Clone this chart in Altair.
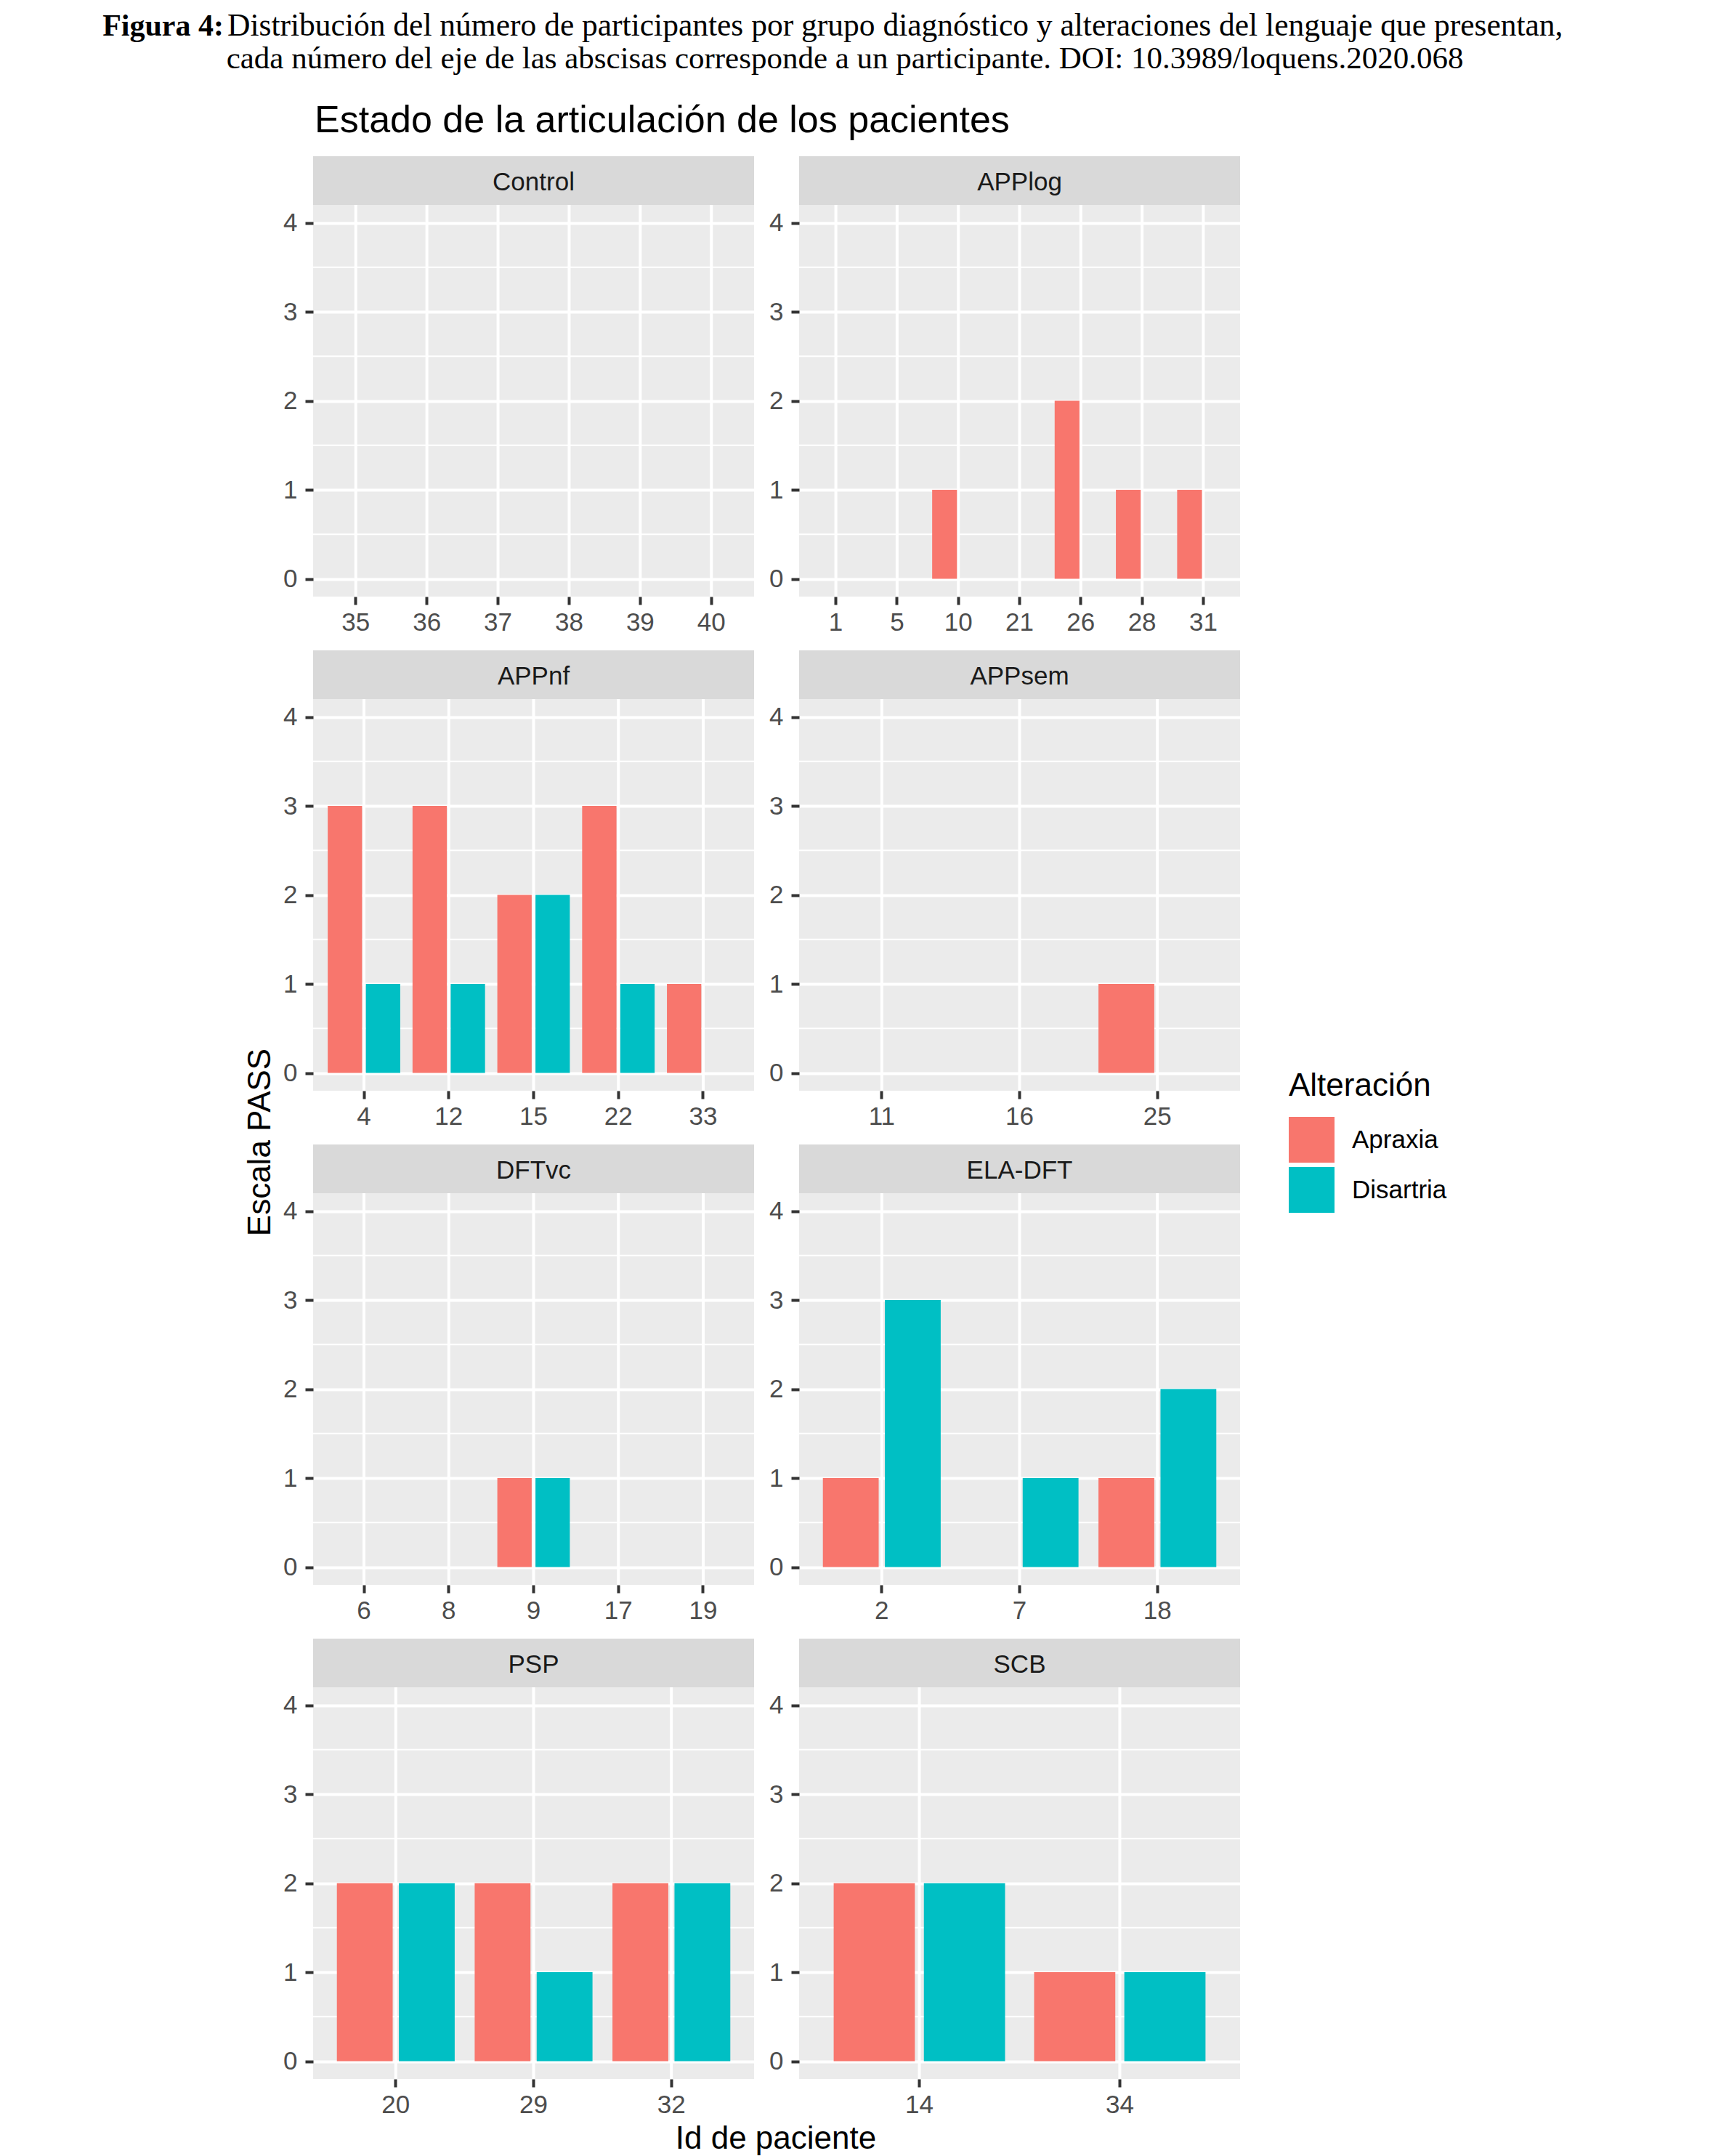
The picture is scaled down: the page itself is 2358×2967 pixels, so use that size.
import altair as alt
import pandas as pd

FONT = "Liberation Sans"
SERIF = "Liberation Serif"

# ---- data ----
groups = ["Control", "APPlog", "APPnf", "APPsem", "DFTvc", "ELA-DFT", "PSP", "SCB"]

ids_control = [35, 36, 37, 38, 39, 40]
apraxia_control = [0, 0, 0, 0, 0, 0]
disartria_control = [0, 0, 0, 0, 0, 0]

ids_applog = [1, 5, 10, 21, 26, 28, 31]
apraxia_applog = [0, 0, 1, 0, 2, 1, 1]
disartria_applog = [0, 0, 0, 0, 0, 0, 0]

ids_appnf = [4, 12, 15, 22, 33]
apraxia_appnf = [3, 3, 2, 3, 1]
disartria_appnf = [1, 1, 2, 1, 0]

ids_appsem = [11, 16, 25]
apraxia_appsem = [0, 0, 1]
disartria_appsem = [0, 0, 0]

ids_dftvc = [6, 8, 9, 17, 19]
apraxia_dftvc = [0, 0, 1, 0, 0]
disartria_dftvc = [0, 0, 1, 0, 0]

ids_eladft = [2, 7, 18]
apraxia_eladft = [1, 0, 1]
disartria_eladft = [3, 1, 2]

ids_psp = [20, 29, 32]
apraxia_psp = [2, 2, 2]
disartria_psp = [2, 1, 2]

ids_scb = [14, 34]
apraxia_scb = [2, 1]
disartria_scb = [2, 1]

alteraciones = ["Apraxia", "Disartria"]
colors = ["#F8766D", "#00BFC4"]
y_breaks = [0, 1, 2, 3, 4]
minor_breaks = [0.5, 1.5, 2.5, 3.5]

caption_bold = "Figura 4:"
caption_rest = ("Distribución del número de participantes por grupo diagnóstico "
                "y alteraciones del lenguaje que presentan,")
caption_line2 = ("cada número del eje de las abscisas corresponde a un participante. "
                 "DOI: 10.3989/loquens.2020.068")
main_title = "Estado de la articulación de los pacientes"
y_title = "Escala PASS"
x_title = "Id de paciente"
legend_title = "Alteración"

series = {
    "Control": (ids_control, apraxia_control, disartria_control),
    "APPlog": (ids_applog, apraxia_applog, disartria_applog),
    "APPnf": (ids_appnf, apraxia_appnf, disartria_appnf),
    "APPsem": (ids_appsem, apraxia_appsem, disartria_appsem),
    "DFTvc": (ids_dftvc, apraxia_dftvc, disartria_dftvc),
    "ELA-DFT": (ids_eladft, apraxia_eladft, disartria_eladft),
    "PSP": (ids_psp, apraxia_psp, disartria_psp),
    "SCB": (ids_scb, apraxia_scb, disartria_scb),
}

# ---- layout (pixels) ----
PW, SH, PH = 607, 67, 539          # panel width, strip height, plot height
CH = SH + PH                        # cell height (strip + plot)
COLGAP, ROWGAP = 62, 74

yscale = alt.Scale(domain=[-0.2, 4.2], range=[CH, SH], nice=False, zero=False)
xscale = alt.Scale(paddingInner=0.1, paddingOuter=0.15)
yaxis = alt.Axis(values=y_breaks, title=None, grid=True, gridColor="white",
                 gridWidth=4, domain=False, tickColor="#333333", tickSize=11,
                 tickWidth=4, labelColor="#4D4D4D", labelFontSize=35,
                 labelFont=FONT, labelPadding=11)
xaxis = alt.Axis(title=None, labelAngle=0, grid=False, bandPosition=0.5,
                 domain=False, tickColor="#333333", tickSize=11, tickWidth=4,
                 labelColor="#4D4D4D", labelFontSize=35, labelFont=FONT,
                 labelPadding=7)

color = alt.Color(
    "Alteración:N",
    scale=alt.Scale(domain=alteraciones, range=colors),
    legend=alt.Legend(
        title=legend_title, orient="none", legendX=1343, legendY=1258,
        symbolType="square", symbolSize=3969, symbolStrokeWidth=0,
        symbolOpacity=1, labelFontSize=35, labelFont=FONT, labelColor="black",
        titleFontSize=44, titleFont=FONT, titleColor="black",
        titleFontWeight="normal", titlePadding=20, rowPadding=6,
        labelOffset=24, titleLimit=600, labelLimit=600,
    ),
)


def text_layer(txt, x, y, **kw):
    return alt.Chart(pd.DataFrame({"t": [txt]})).mark_text(**kw).encode(
        text="t:N", x=alt.value(x), y=alt.value(y))


def panel(name, extras=None):
    ids, apr, dis = series[name]
    df = pd.DataFrame({
        "Grupo": name,
        "Id": ids + ids,
        "Alteración": [alteraciones[0]] * len(ids) + [alteraciones[1]] * len(ids),
        "Valor": apr + dis,
    })
    lab = pd.DataFrame({"Grupo": [name]})
    strip_bg = alt.Chart(lab).mark_rect(color="#D9D9D9").encode(
        x=alt.value(0), x2=alt.value(PW), y=alt.value(0), y2=alt.value(SH))
    strip_txt = alt.Chart(lab).mark_text(
        font=FONT, fontSize=35, color="#1A1A1A", baseline="middle"
    ).encode(text="Grupo:N", y=alt.value(SH / 2 + 2))
    minor = alt.Chart(pd.DataFrame({"m": minor_breaks})).mark_rule(
        color="white", strokeWidth=2
    ).encode(y=alt.Y("m:Q", scale=yscale, axis=yaxis))
    vgrid = alt.Chart(df).transform_filter(
        alt.datum["Alteración"] == alteraciones[0]
    ).mark_rule(color="white", strokeWidth=4).encode(
        x=alt.X("Id:O", sort="ascending", scale=xscale, axis=xaxis,
                bandPosition=0.5),
        y=alt.value(SH), y2=alt.value(CH))
    bars = alt.Chart(df).mark_bar().encode(
        x=alt.X("Id:O", sort="ascending", scale=xscale, axis=xaxis),
        xOffset=alt.XOffset("Alteración:N",
                            scale=alt.Scale(domain=alteraciones,
                                            paddingInner=0.1,
                                            paddingOuter=0.05)),
        y=alt.Y("Valor:Q", scale=yscale, axis=yaxis),
        y2=alt.datum(0),
        color=color,
    )
    layers = [minor, vgrid, bars, strip_bg, strip_txt] + (extras or [])
    return alt.layer(*layers).properties(
        width=PW, height=CH,
        view=alt.ViewBackground(fill="#EBEBEB", stroke=None))


# texts placed relative to the top-left panel (its cell starts at 0,0)
extras = [
    # invisible anchor fixing the page origin
    alt.Chart(pd.DataFrame({"a": [0]})).mark_rect(opacity=0).encode(
        x=alt.value(-423), x2=alt.value(-422), y=alt.value(-207),
        y2=alt.value(-206)),
    text_layer(caption_bold, -123, -166, font=SERIF, fontSize=42,
               fontWeight="bold", color="black", align="right",
               baseline="alphabetic"),
    text_layer(caption_rest, -118, -166, font=SERIF, fontSize=43.5,
               color="black", align="left", baseline="alphabetic"),
    text_layer(caption_line2, 732, -121, font=SERIF, fontSize=43,
               color="black", align="center", baseline="alphabetic"),
    text_layer(main_title, 2, -33, font=FONT, fontSize=52, color="black",
               align="left", baseline="alphabetic"),
    text_layer(y_title, -59, 1357, font=FONT, fontSize=44, color="black",
               angle=270, align="center", baseline="alphabetic"),
    text_layer(x_title, 637, 2742, font=FONT, fontSize=44, color="black",
               align="center", baseline="alphabetic"),
]

panels = [panel(g, extras if i == 0 else None) for i, g in enumerate(groups)]

chart = alt.concat(
    *panels, columns=2, spacing={"row": ROWGAP, "column": COLGAP},
    bounds="flush"
).resolve_scale(
    x="independent", y="independent", xOffset="independent"
).properties(padding=0).configure(font=FONT).configure_view(stroke=None)

chart.save("out.html", embed_options={"renderer": "svg", "actions": False})
